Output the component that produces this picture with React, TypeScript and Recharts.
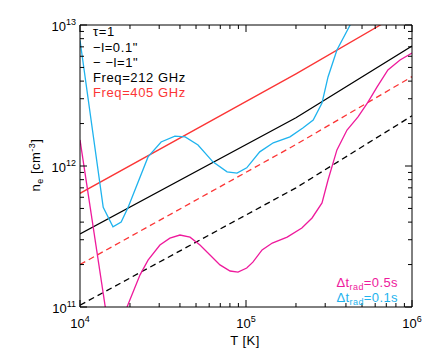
import { LineChart, Line, XAxis, YAxis } from "recharts";

// temperature ticks (major + minor) and density ticks
const T_TICKS = [
  1e4, 2e4, 3e4, 4e4, 5e4, 6e4, 7e4, 8e4, 9e4,
  1e5, 2e5, 3e5, 4e5, 5e5, 6e5, 7e5, 8e5, 9e5, 1e6,
];
const NE_TICKS = [
  1e11, 2e11, 3e11, 4e11, 5e11, 6e11, 7e11, 8e11, 9e11,
  1e12, 2e12, 3e12, 4e12, 5e12, 6e12, 7e12, 8e12, 9e12, 1e13,
];

// tau=1 lines
const line212Thin = [
  { T: 1e4, ne: 3.3e11 },
  { T: 2e5, ne: 2.2e12 },
  { T: 1e6, ne: 7.1e12 },
];
const line212Thick = [
  { T: 1e4, ne: 1.03e11 },
  { T: 2e5, ne: 7.0e11 },
  { T: 1e6, ne: 2.27e12 },
];
const line405Thin = [
  { T: 1e4, ne: 6.4e11 },
  { T: 2e5, ne: 4.5e12 },
  { T: 1e6, ne: 1.35e13 },
];
const line405Thick = [
  { T: 1e4, ne: 2.0e11 },
  { T: 2e5, ne: 1.42e12 },
  { T: 1e6, ne: 4.3e12 },
];

// dt_rad = 0.1 s
const rad01 = [
  { T: 1.0e4, ne: 7.8e12 },
  { T: 1.38e4, ne: 5.1e11 },
  { T: 1.58e4, ne: 3.7e11 },
  { T: 1.77e4, ne: 4.0e11 },
  { T: 1.95e4, ne: 5.1e11 },
  { T: 2.57e4, ne: 1.16e12 },
  { T: 3.08e4, ne: 1.48e12 },
  { T: 3.73e4, ne: 1.63e12 },
  { T: 4.3e4, ne: 1.61e12 },
  { T: 5.14e4, ne: 1.41e12 },
  { T: 6.32e4, ne: 1.07e12 },
  { T: 7.69e4, ne: 9.1e11 },
  { T: 8.83e4, ne: 8.9e11 },
  { T: 1.01e5, ne: 9.7e11 },
  { T: 1.21e5, ne: 1.26e12 },
  { T: 1.46e5, ne: 1.46e12 },
  { T: 1.84e5, ne: 1.61e12 },
  { T: 2.2e5, ne: 1.86e12 },
  { T: 2.54e5, ne: 2.12e12 },
  { T: 2.87e5, ne: 2.8e12 },
  { T: 3.12e5, ne: 4.28e12 },
  { T: 3.53e5, ne: 6.65e12 },
  { T: 4.24e5, ne: 1.0e13 },
  { T: 4.8e5, ne: 1.4e13 },
];

// dt_rad = 0.5 s (two pieces, it dips below the axis)
const rad05a = [
  { T: 1.0e4, ne: 1.53e12 },
  { T: 1.42e4, ne: 1.0e11 },
];
const rad05b = [
  { T: 1.92e4, ne: 1.0e11 },
  { T: 2.3e4, ne: 1.69e11 },
  { T: 2.57e4, ne: 2.15e11 },
  { T: 3.03e4, ne: 2.75e11 },
  { T: 3.48e4, ne: 3.08e11 },
  { T: 4.0e4, ne: 3.24e11 },
  { T: 4.6e4, ne: 3.13e11 },
  { T: 5.28e4, ne: 2.75e11 },
  { T: 6.07e4, ne: 2.34e11 },
  { T: 6.97e4, ne: 1.99e11 },
  { T: 8.02e4, ne: 1.8e11 },
  { T: 8.95e4, ne: 1.77e11 },
  { T: 1.01e5, ne: 1.89e11 },
  { T: 1.1e5, ne: 2.08e11 },
  { T: 1.25e5, ne: 2.54e11 },
  { T: 1.44e5, ne: 2.84e11 },
  { T: 1.77e5, ne: 3.13e11 },
  { T: 2.17e5, ne: 3.63e11 },
  { T: 2.5e5, ne: 4.28e11 },
  { T: 2.87e5, ne: 5.47e11 },
  { T: 3.12e5, ne: 7.96e11 },
  { T: 3.53e5, ne: 1.3e12 },
  { T: 4.06e5, ne: 1.8e12 },
  { T: 4.73e5, ne: 2.23e12 },
  { T: 5.43e5, ne: 2.84e12 },
  { T: 6.15e5, ne: 3.63e12 },
  { T: 7.16e5, ne: 4.8e12 },
  { T: 8.47e5, ne: 5.65e12 },
  { T: 1.0e6, ne: 6.32e12 },
];

const RED = "#fb3535";
const CYAN = "#1fb3ee";
const MAGENTA = "#ee1a9c";
const FONT = "'Liberation Sans', Arial, sans-serif";

const isMajor = (v: number) => {
  const l = Math.log10(v);
  return Math.abs(l - Math.round(l)) < 1e-6;
};

const XTick = (props: any) => {
  const { x, y, payload, side } = props;
  const v = payload.value;
  const major = isMajor(v);
  const len = major ? 7 : 4;
  const dir = side === "bottom" ? -1 : 1;
  return (
    <g>
      <line x1={x} x2={x} y1={y} y2={y + dir * len} stroke="#000" strokeWidth={1} />
      {major && side === "bottom" && (
        <text x={x} y={y + 21} textAnchor="middle" fontSize={13} fontFamily={FONT} fill="#000">
          10
          <tspan dy={-6} fontSize={9}>
            {Math.round(Math.log10(v))}
          </tspan>
        </text>
      )}
    </g>
  );
};

const YTick = (props: any) => {
  const { x, y, payload, side } = props;
  const v = payload.value;
  const major = isMajor(v);
  const len = major ? 7 : 4;
  const dir = side === "left" ? 1 : -1;
  return (
    <g>
      <line x1={x} x2={x + dir * len} y1={y} y2={y} stroke="#000" strokeWidth={1} />
      {major && side === "left" && (
        <text x={x - 4} y={y + 6} textAnchor="end" fontSize={13} fontFamily={FONT} fill="#000">
          10
          <tspan dy={-6} fontSize={9}>
            {Math.round(Math.log10(v))}
          </tspan>
        </text>
      )}
    </g>
  );
};

export default function App() {
  const lineProps = {
    dataKey: "ne",
    dot: false,
    isAnimationActive: false,
    strokeWidth: 1.3,
    type: "linear" as const,
  };
  return (
    <div style={{ position: "fixed", left: 0, top: 0, width: 436, height: 359, background: "#fff" }}>
      <LineChart width={436} height={359} margin={{ top: 0, right: 0, bottom: 0, left: 0 }}>
        <XAxis
          xAxisId="b"
          dataKey="T"
          type="number"
          scale="log"
          domain={[1e4, 1e6]}
          ticks={T_TICKS}
          interval={0}
          allowDataOverflow
          height={52}
          tickSize={0}
          tickMargin={0}
          tickLine={false}
          axisLine={{ stroke: "#000" }}
          tick={<XTick side="bottom" />}
        />
        <XAxis
          xAxisId="t"
          orientation="top"
          dataKey="T"
          type="number"
          scale="log"
          domain={[1e4, 1e6]}
          ticks={T_TICKS}
          interval={0}
          allowDataOverflow
          height={25}
          tickSize={0}
          tickMargin={0}
          tickLine={false}
          axisLine={{ stroke: "#000" }}
          tick={<XTick side="top" />}
        />
        <YAxis
          yAxisId="l"
          type="number"
          scale="log"
          domain={[1e11, 1e13]}
          ticks={NE_TICKS}
          interval={0}
          allowDataOverflow
          width={80}
          tickSize={0}
          tickMargin={0}
          tickLine={false}
          axisLine={{ stroke: "#000" }}
          tick={<YTick side="left" />}
        />
        <YAxis
          yAxisId="r"
          orientation="right"
          type="number"
          scale="log"
          domain={[1e11, 1e13]}
          ticks={NE_TICKS}
          interval={0}
          allowDataOverflow
          width={24}
          tickSize={0}
          tickMargin={0}
          tickLine={false}
          axisLine={{ stroke: "#000" }}
          tick={<YTick side="right" />}
        />
        <Line {...lineProps} xAxisId="b" yAxisId="l" data={line212Thin} stroke="#000" />
        <Line {...lineProps} xAxisId="b" yAxisId="l" data={line212Thick} stroke="#000" strokeDasharray="6 4" />
        <Line {...lineProps} xAxisId="b" yAxisId="l" data={line405Thin} stroke={RED} />
        <Line {...lineProps} xAxisId="b" yAxisId="l" data={line405Thick} stroke={RED} strokeDasharray="6 4" />
        <Line {...lineProps} xAxisId="b" yAxisId="l" data={rad01} stroke={CYAN} />
        <Line {...lineProps} xAxisId="b" yAxisId="l" data={rad05a} stroke={MAGENTA} />
        <Line {...lineProps} xAxisId="b" yAxisId="l" data={rad05b} stroke={MAGENTA} />
      </LineChart>
      <svg
        width={436}
        height={359}
        style={{ position: "absolute", left: 0, top: 0, pointerEvents: "none" }}
        fontFamily={FONT}
      >
        <g fontSize={13} letterSpacing={0.6}>
          <text x={93} y={36} fill="#000">τ=1</text>
          <text x={93} y={52} fill="#000">−l=0.1"</text>
          <text x={93} y={67} fill="#000">− −l=1"</text>
          <text x={93} y={82} fill="#000">Freq=212 GHz</text>
          <text x={93} y={97} fill={RED}>Freq=405 GHz</text>
        </g>
        <text x={398} y={287} textAnchor="end" fontSize={13} fill={MAGENTA} letterSpacing={0.4}>
          Δt<tspan dy={3} fontSize={9}>rad</tspan>
          <tspan dy={-3}>=0.5s</tspan>
        </text>
        <text x={398} y={302} textAnchor="end" fontSize={13} fill={CYAN} letterSpacing={0.4}>
          Δt<tspan dy={3} fontSize={9}>rad</tspan>
          <tspan dy={-3}>=0.1s</tspan>
        </text>
        <text x={245} y={345} textAnchor="middle" fontSize={13} fill="#000" letterSpacing={0.5}>
          T [K]
        </text>
        <text
          transform="translate(40,165) rotate(-90)"
          x={0}
          y={0}
          textAnchor="middle"
          fontSize={13}
          fill="#000"
          letterSpacing={0.5}
        >
          n<tspan dy={3} fontSize={9}>e</tspan>
          <tspan dy={-3}> [cm</tspan>
          <tspan dy={-5} fontSize={9}>-3</tspan>
          <tspan dy={5}>]</tspan>
        </text>
      </svg>
    </div>
  );
}
